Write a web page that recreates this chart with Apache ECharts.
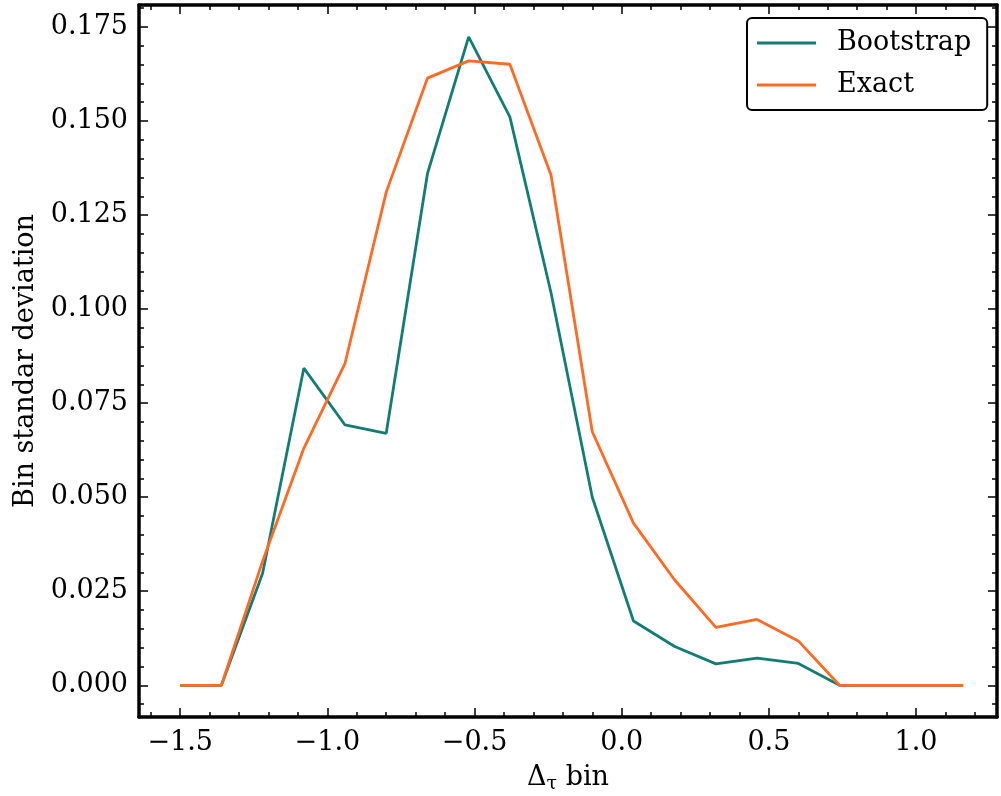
<!DOCTYPE html>
<html><head><meta charset="utf-8">
<script src="https://cdn.jsdelivr.net/npm/echarts@6/dist/echarts.min.js"></script>
<style>html,body{margin:0;padding:0;background:#fff}#c{width:1001px;height:796px}</style>
</head><body><div id="c"></div>
<script>
const xValues = [-1.5, -1.36, -1.22, -1.08, -0.94, -0.80, -0.66, -0.52, -0.38, -0.24, -0.10, 0.04, 0.18, 0.32, 0.46, 0.60, 0.74, 0.88, 1.02, 1.16];
const bootstrap = [0, 0, 0.0298, 0.0843, 0.0692, 0.0670, 0.1360, 0.1724, 0.1511, 0.1043, 0.0500, 0.0171, 0.0103, 0.0057, 0.0072, 0.0058, 0, 0, 0, 0];
const exact = [0, 0, 0.0330, 0.0630, 0.0856, 0.1311, 0.1614, 0.1660, 0.1651, 0.1356, 0.0674, 0.0431, 0.0280, 0.0154, 0.0175, 0.0118, 0, 0, 0, 0];
const xTicks = [-1.5, -1.0, -0.5, 0.0, 0.5, 1.0];
const xMinorTicks = [-1.6, -1.4, -1.3, -1.2, -1.1, -0.9, -0.8, -0.7, -0.6, -0.4, -0.3, -0.2, -0.1, 0.1, 0.2, 0.3, 0.4, 0.6, 0.7, 0.8, 0.9, 1.1, 1.2];
const yTicks = [0, 0.025, 0.05, 0.075, 0.1, 0.125, 0.15, 0.175];
const yMinorTicks = [-0.005, 0.005, 0.01, 0.015, 0.02, 0.03, 0.035, 0.04, 0.045, 0.055, 0.06, 0.065, 0.07, 0.08, 0.085, 0.09, 0.095, 0.105, 0.11, 0.115, 0.12, 0.13, 0.135, 0.14, 0.145, 0.155, 0.16, 0.165, 0.17, 0.18];
const seriesNames = ['Bootstrap', 'Exact'];

const FONT = 'DejaVu Serif';
const FS = 27;
const TEAL = '#137c74';
const ORANGE = '#ff6a24';
const XMIN = -1.640, XMAX = 1.275, YMIN = -0.00843, YMAX = 0.18085;

function xAx(pos, major, labels) {
  return {
    type: 'value', position: pos, min: XMIN, max: XMAX,
    axisLine: { show: major, onZero: false, lineStyle: { color: '#000', width: 3.5 } },
    axisTick: { show: true, inside: true, length: major ? 9 : 5, customValues: major ? xTicks : xMinorTicks, lineStyle: { color: '#000', width: 1.5 } },
    axisLabel: labels ? {
      show: true, customValues: xTicks, margin: 12, color: '#000', fontFamily: FONT, fontSize: FS,
      formatter: v => (v < 0 ? '\u2212' : '') + Math.abs(v).toFixed(1)
    } : { show: false },
    splitLine: { show: false }
  };
}
function yAx(pos, major, labels) {
  return {
    type: 'value', position: pos, min: YMIN, max: YMAX,
    axisLine: { show: major, onZero: false, lineStyle: { color: '#000', width: 3.5 } },
    axisTick: { show: true, inside: true, length: major ? 9 : 5, customValues: major ? yTicks : yMinorTicks, lineStyle: { color: '#000', width: 1.5 } },
    axisLabel: labels ? {
      show: true, customValues: yTicks, margin: 11, color: '#000', fontFamily: FONT, fontSize: FS,
      formatter: v => v.toFixed(3)
    } : { show: false },
    splitLine: { show: false }
  };
}

const xa0 = xAx('bottom', true, true);
xa0.name = '{a|\u0394}{s|\u03c4}{a| bin}';
xa0.nameLocation = 'middle';
xa0.nameGap = 44;
xa0.nameTextStyle = { color: '#000', rich: {
  a: { fontFamily: FONT, fontSize: FS, color: '#000' },
  s: { fontFamily: FONT, fontSize: 19, color: '#000', padding: [14, 0, 0, 0] }
} };
const ya0 = yAx('left', true, true);
ya0.name = 'Bin standar deviation';
ya0.nameLocation = 'middle';
ya0.nameGap = 98;
ya0.nameTextStyle = { color: '#000', fontFamily: FONT, fontSize: FS };

const option = {
  animation: false,
  backgroundColor: '#fff',
  grid: { left: 139, right: 4, top: 5, bottom: 79, containLabel: false, outerBoundsMode: 'none' },
  xAxis: [xa0, xAx('bottom', false, false), xAx('top', true, false), xAx('top', false, false)],
  yAxis: [ya0, yAx('left', false, false), yAx('right', true, false), yAx('right', false, false)],
  legend: {
    left: 747, top: 18, orient: 'vertical',
    borderColor: '#000', borderWidth: 2, borderRadius: 5,
    padding: [10, 16, 10, 10],
    itemWidth: 59, itemHeight: 3, itemGap: 12,
    icon: 'rect',
    textStyle: { fontFamily: FONT, fontSize: FS, color: '#000', lineHeight: 30, padding: [0, 0, 0, 16] },
    data: seriesNames
  },
  series: [
    { name: seriesNames[0], type: 'line', symbol: 'none', xAxisIndex: 0, yAxisIndex: 0,
      data: xValues.map((x, i) => [x, bootstrap[i]]), lineStyle: { color: TEAL, width: 2.8 }, itemStyle: { color: TEAL } },
    { name: seriesNames[1], type: 'line', symbol: 'none', xAxisIndex: 0, yAxisIndex: 0,
      data: xValues.map((x, i) => [x, exact[i]]), lineStyle: { color: ORANGE, width: 2.8 }, itemStyle: { color: ORANGE } }
  ]
};
const chart = echarts.init(document.getElementById('c'), null, { renderer: 'canvas' });
chart.setOption(option);
</script></body></html>
